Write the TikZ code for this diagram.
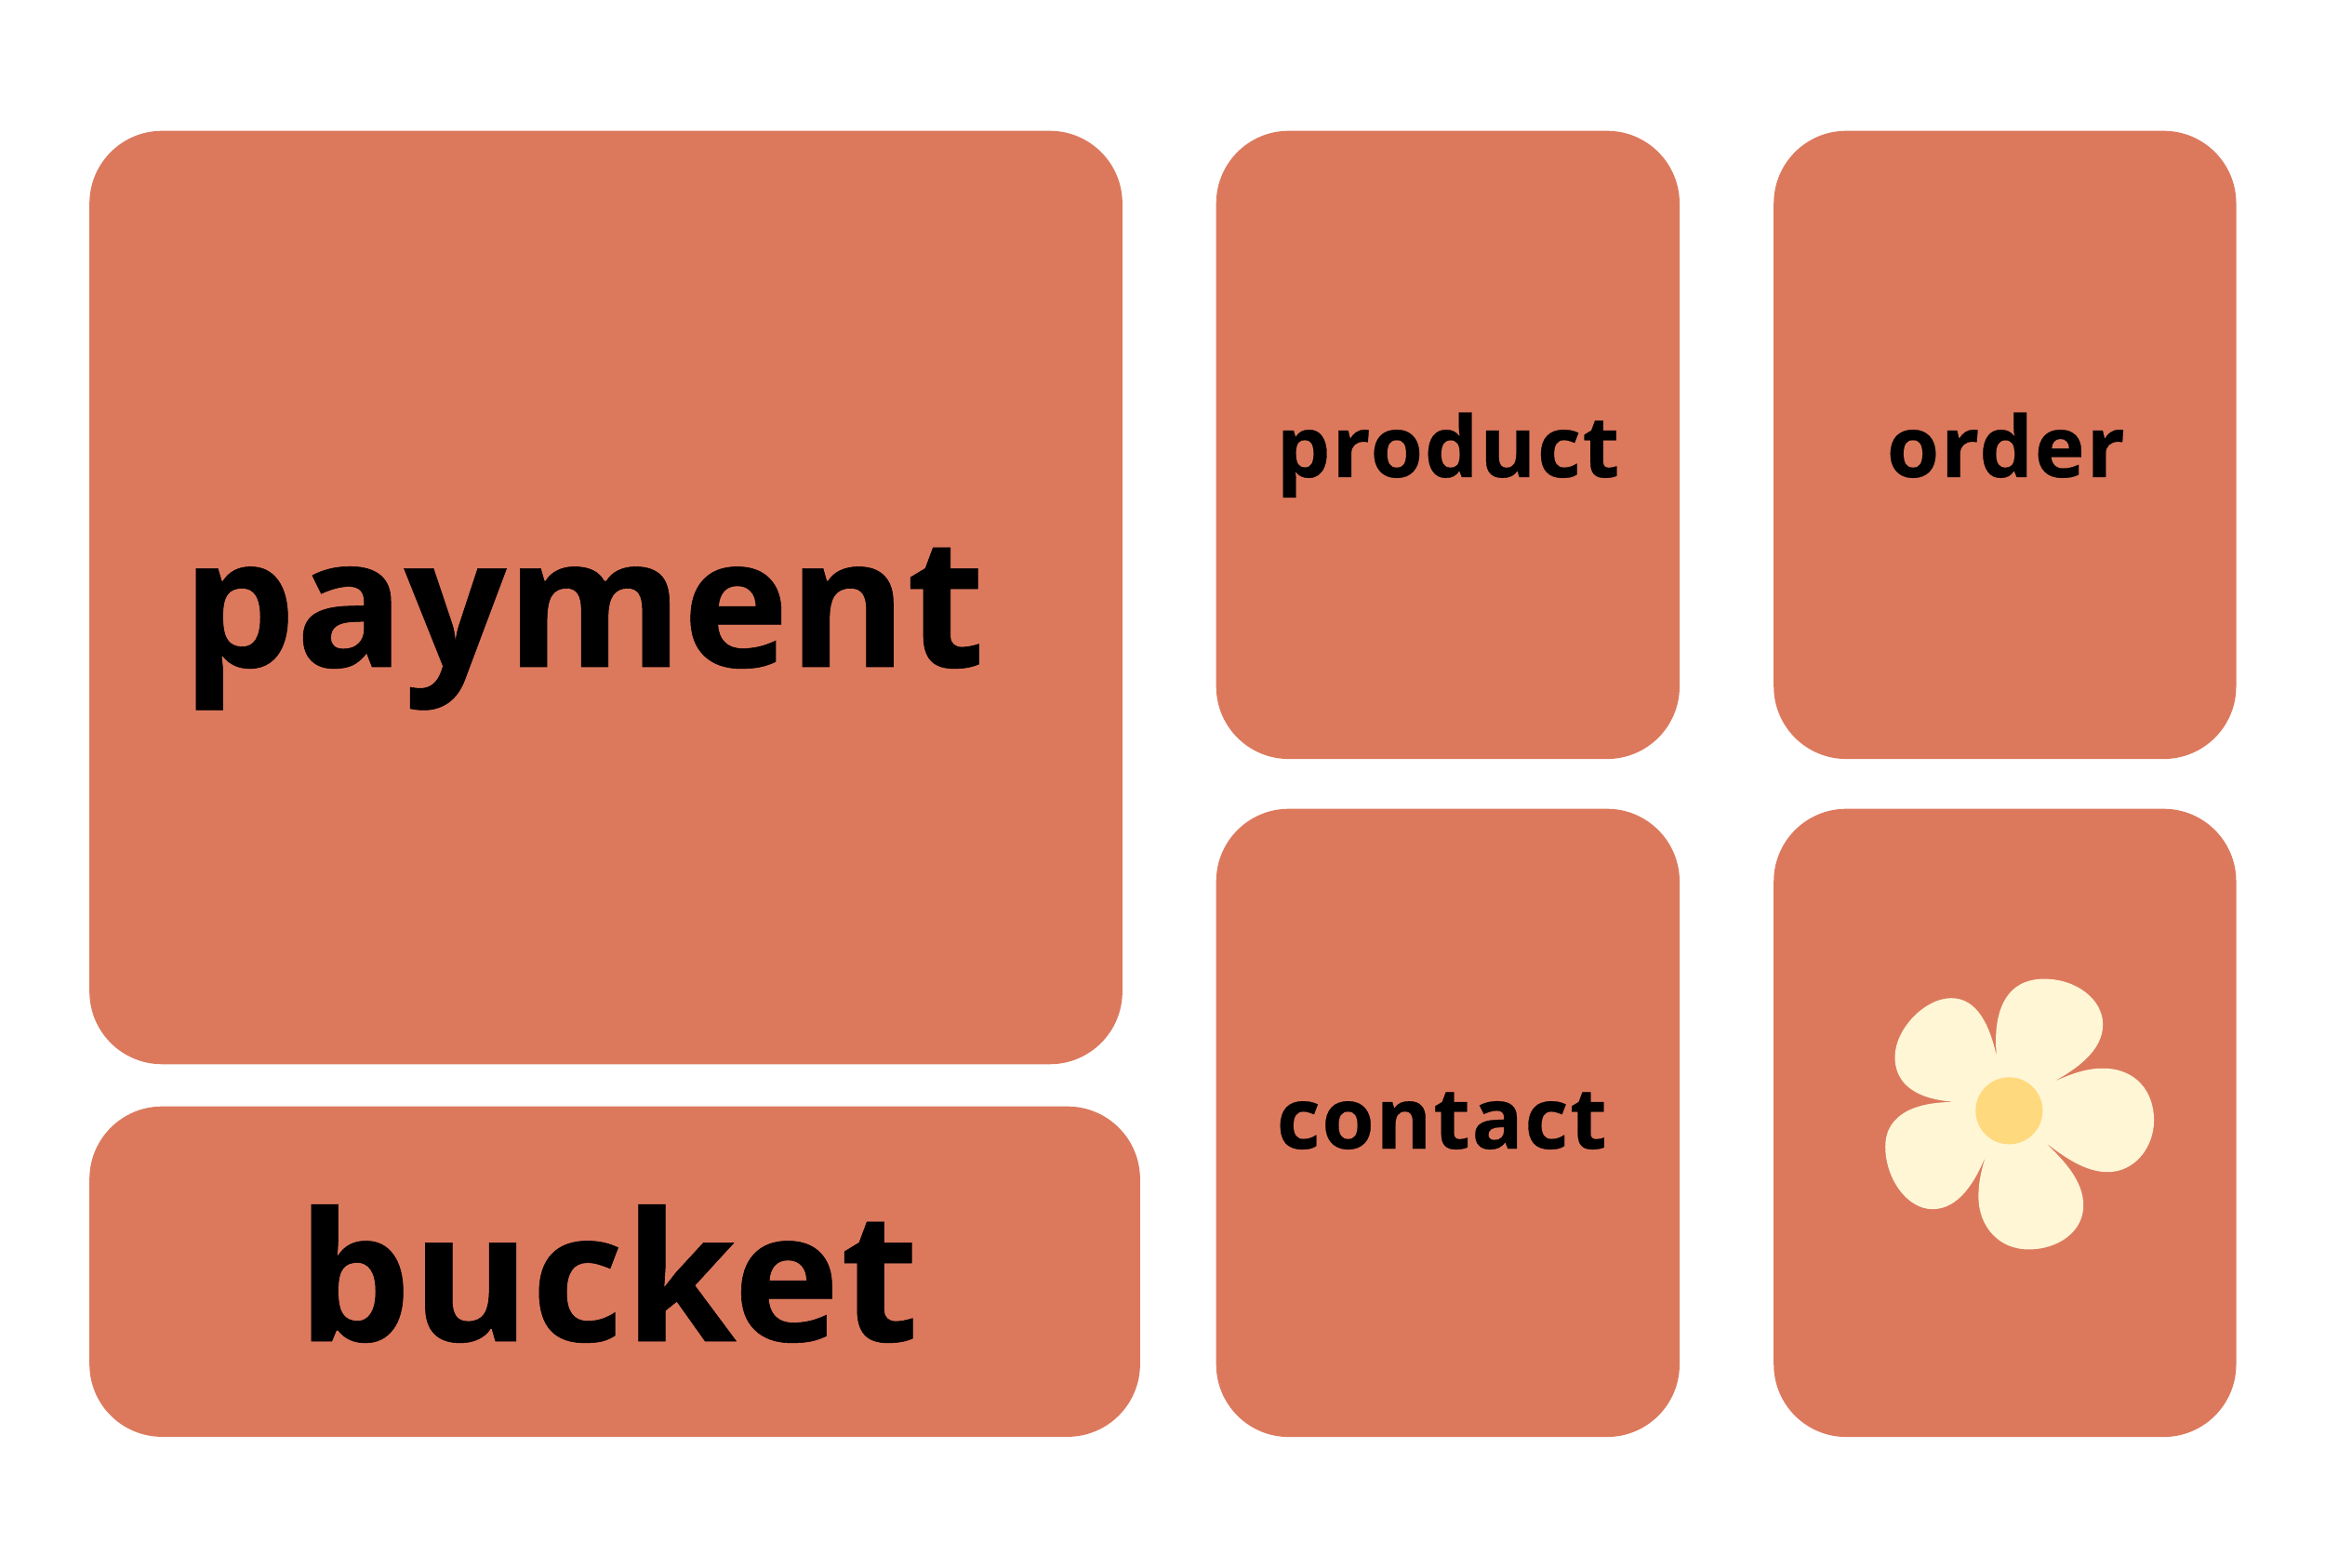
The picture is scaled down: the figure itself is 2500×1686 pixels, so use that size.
\documentclass[tikz,border=0pt]{standalone}
\usepackage{fontspec}
\setmainfont{Open Sans}[BoldFeatures={FakeBold=0.3,LetterSpace=1.8}]
\newfontfamily\payfont{Open Sans}[BoldFeatures={FakeBold=0.3,LetterSpace=-0.15}]
\newfontfamily\bucketfont{Open Sans}[BoldFeatures={FakeBold=0.3,LetterSpace=0.5}]
\definecolor{tile}{HTML}{DC795D}
\definecolor{petal}{HTML}{FFF6D5}
\definecolor{core}{HTML}{FFD97D}
\tikzset{
  tile/.style={fill=tile,draw=none,rounded corners=0.78cm,inner sep=0pt,anchor=north west},
  word/.style={anchor=base west,inner sep=0pt,text=black}
}
\begin{document}
\begin{tikzpicture}[x=0.01cm,y=-0.01cm]
\useasboundingbox (0,0) rectangle (2500,1686);
\fill[white] (0,0) rectangle (2500,1686);
\node[tile,minimum width=11.10cm,minimum height=10.03cm] (paybox) at (95.5,140) {};
\node[tile,minimum width=11.29cm,minimum height=3.55cm] (bucketbox) at (95.5,1189) {};
\node[tile,minimum width=4.98cm,minimum height=6.75cm] (productbox) at (1307,140) {};
\node[tile,minimum width=4.97cm,minimum height=6.75cm] (orderbox) at (1906.5,140) {};
\node[tile,minimum width=4.98cm,minimum height=6.75cm] (contactbox) at (1307,869) {};
\node[tile,minimum width=4.97cm,minimum height=6.75cm] (flowerbox) at (1906.5,869) {};
\node[word,font=\payfont\bfseries\fontsize{55pt}{55pt}\selectfont] (payment) at (195,717) {payment};
\node[word,font=\bucketfont\bfseries\fontsize{55pt}{55pt}\selectfont] (bucket) at (319,1442) {bucket};
\node[word,font=\bfseries\fontsize{26pt}{26pt}\selectfont] (product) at (1372,513) {product};
\node[word,font=\bfseries\fontsize{26pt}{26pt}\selectfont] (order) at (2028,513) {order};
\node[word,font=\bfseries\fontsize{26pt}{26pt}\selectfont] (contact) at (1372,1235) {contact};
\begin{scope}[shift={(1950,1000)},x=0.00333333cm,y=-0.00333333cm]
\fill[petal] (592,410) .. controls (580,300) and (600,158) .. (745,158)
 .. controls (850,158) and (935,225) .. (935,305)
 .. controls (935,390) and (850,450) .. (768,494)
 .. controls (830,465) and (880,447) .. (935,447)
 .. controls (1040,447) and (1100,520) .. (1100,615)
 .. controls (1100,700) and (1040,782) .. (950,782)
 .. controls (880,782) and (810,735) .. (745,683)
 .. controls (810,745) and (872,810) .. (872,890)
 .. controls (872,975) and (790,1032) .. (695,1032)
 .. controls (600,1032) and (533,960) .. (533,860)
 .. controls (533,810) and (545,765) .. (558,725)
 .. controls (525,810) and (470,902) .. (385,902)
 .. controls (300,902) and (232,800) .. (232,700)
 .. controls (232,590) and (340,553) .. (465,556)
 .. controls (350,550) and (263,510) .. (263,410)
 .. controls (263,320) and (360,220) .. (445,220)
 .. controls (530,220) and (570,310) .. (592,410) -- cycle;
\fill[core] (632,584) circle[radius=0.36cm];
\end{scope}
\end{tikzpicture}
\end{document}
